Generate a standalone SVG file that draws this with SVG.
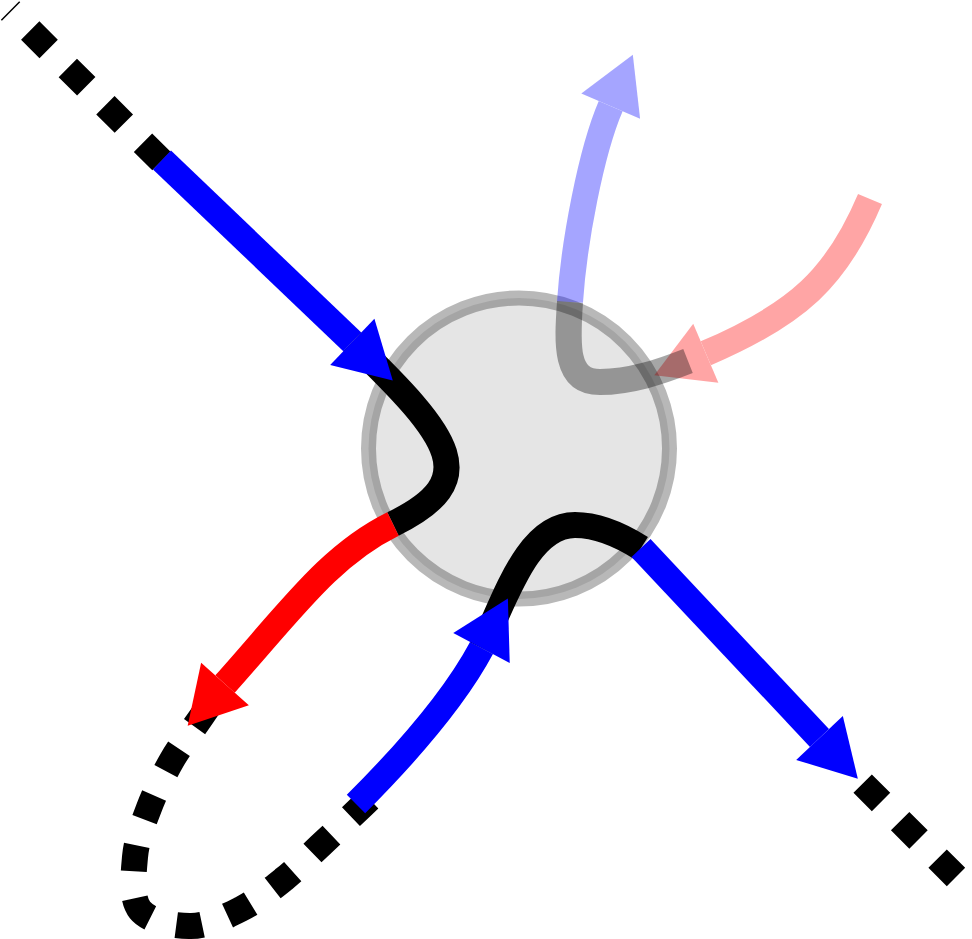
<svg xmlns="http://www.w3.org/2000/svg" width="972" height="939" viewBox="0 0 972 939">
<style>
.ln{fill:none;stroke-width:26;stroke-linecap:butt;stroke-linejoin:round}
.dash{fill:none;stroke:#000;stroke-width:26;stroke-dasharray:26 27;stroke-linecap:butt}
.blk{stroke:#000}
.blu{stroke:#0000ff}
.red{stroke:#ff0000}
.faint{opacity:0.35}
</style>
<defs>
<marker id="ahBlue" markerUnits="userSpaceOnUse" orient="auto" refX="0" refY="0" markerWidth="60" markerHeight="70" style="overflow:visible">
<path d="M0,-32 L56,0 L0,32 Z" fill="#0000ff"/>
</marker>
<marker id="ahRed" markerUnits="userSpaceOnUse" orient="auto" refX="0" refY="0" markerWidth="60" markerHeight="70" style="overflow:visible">
<path d="M0,-32 L56,0 L0,32 Z" fill="#ff0000"/>
</marker>
</defs>
<rect width="972" height="939" fill="#fff"/>
<g id="blob">
<circle cx="519" cy="448.5" r="150.5" fill="#000" fill-opacity="0.1" stroke="#000" stroke-opacity="0.28" stroke-width="15"/>
</g>
<g id="connectors">
<path class="dash" style="stroke-dashoffset:24.5" d="M10,10.5 L170,169.5"/>
<path class="dash" style="stroke-dashoffset:45" d="M857,778 L956,877"/>
<path class="dash" d="M209.3,705.2 L202,716 C192,730.7 180.8,744.7 172,760 C163.2,775.3 155.2,791.8 149,808 C142.8,824.2 136.5,840 135,857 C133.5,874 130.7,898.5 140,910 C149.3,921.5 174.2,926.2 191,926 C207.8,925.8 225.5,916.8 241,909 C256.5,901.2 270.3,890 284,879 C297.7,868 310.3,854.8 323,843 C335.7,831.2 347.7,819.7 360,808 L369.4,799.1"/>
<path class="ln blk" d="M352.3,341.9 C453,439 483,480 393,524"/>
<path class="ln blk" d="M481.5,648 C505,600 527,525 575,525 C600,525 622,536 641,548"/>
<path class="ln blu" marker-end="url(#ahBlue)" d="M162,160 L352.3,341.9"/>
<path class="ln red" marker-end="url(#ahRed)" d="M393,524 C330,555 292,609 225,684"/>
<path class="ln blu" marker-end="url(#ahBlue)" d="M356,804 C405,755 453.3,700.8 481.5,648"/>
<path class="ln blu" marker-end="url(#ahBlue)" d="M641,548 L819.5,738"/>
<g class="faint">
<path class="ln blu" marker-end="url(#ahBlue)" d="M570,302 C574,242 591,152 610.7,106.2"/>
</g>
<g class="faint">
<path class="ln red" marker-end="url(#ahRed)" d="M870,199 C836.9,277.2 797.8,314 705.8,353.3"/>
</g>
<g class="faint">
<path class="ln blk" d="M570,302 C567,345 565,382 600,382 C630,382 660,372 688,361"/>
</g>
</g>
</svg>
